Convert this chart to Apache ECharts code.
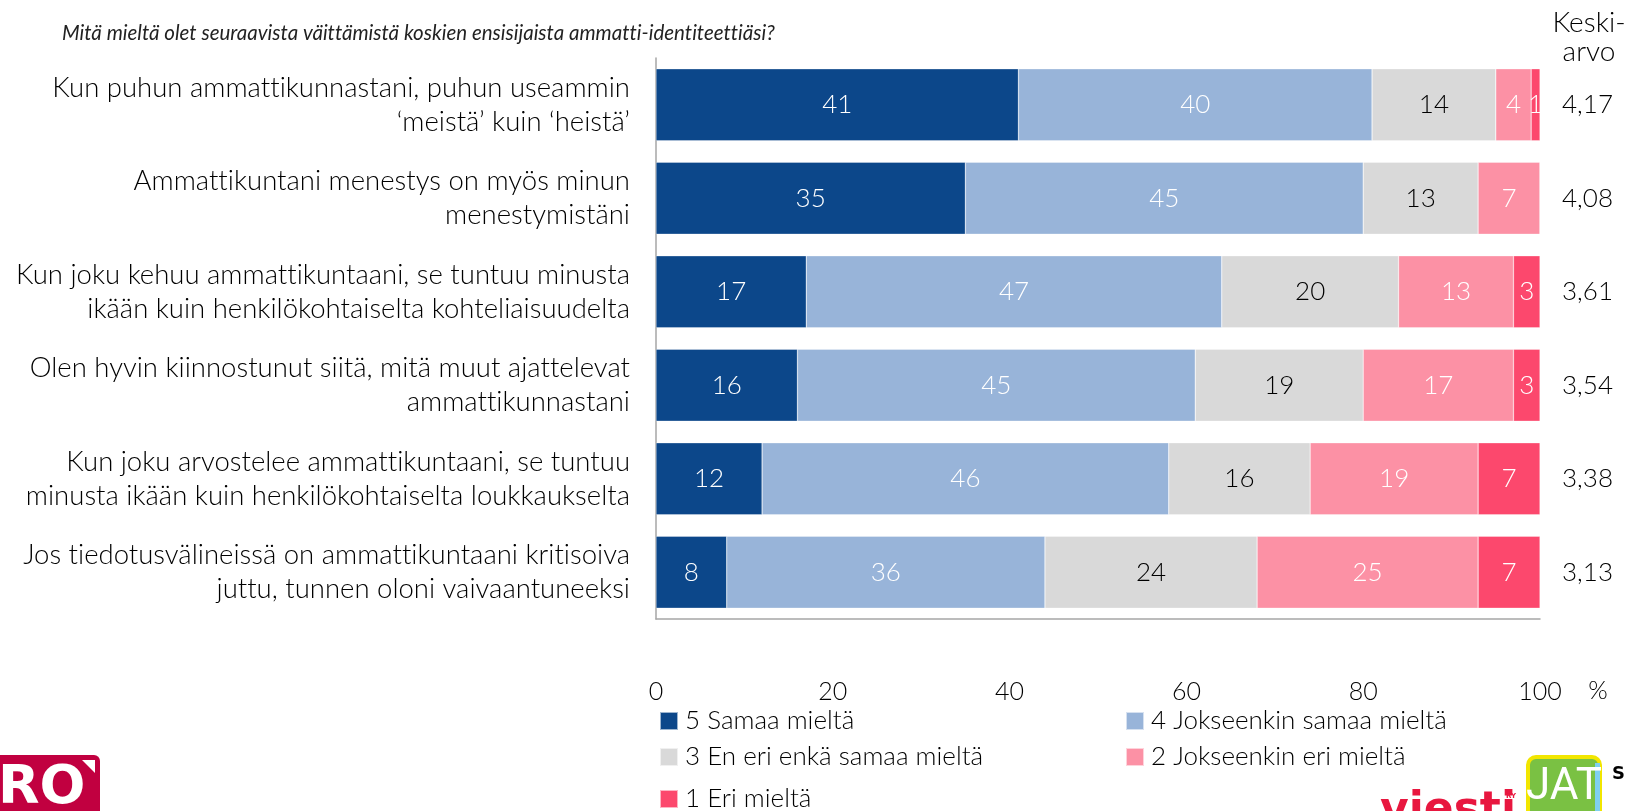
<!DOCTYPE html>
<html>
<head>
<meta charset="utf-8">
<script src="https://cdn.jsdelivr.net/npm/echarts@6/dist/echarts.min.js"></script>
<style>
  html, body { margin: 0; padding: 0; background: #fff; }
  #chart { width: 1627px; height: 811px; }
</style>
</head>
<body>
<div id="chart"></div>
<script>
// väittämät (ylhäältä alas)
const categories = [
    'Kun puhun ammattikunnastani, puhun useammin\n‘meistä’ kuin ‘heistä’',
    'Ammattikuntani menestys on myös minun\nmenestymistäni',
    'Kun joku kehuu ammattikuntaani, se tuntuu minusta\nikään kuin henkilökohtaiselta kohteliaisuudelta',
    'Olen hyvin kiinnostunut siitä, mitä muut ajattelevat\nammattikunnastani',
    'Kun joku arvostelee ammattikuntaani, se tuntuu\nminusta ikään kuin henkilökohtaiselta loukkaukselta',
    'Jos tiedotusvälineissä on ammattikuntaani kritisoiva\njuttu, tunnen oloni vaivaantuneeksi'
];

const seriesNames = [
    '5 Samaa mieltä',
    '4 Jokseenkin samaa mieltä',
    '3 En eri enkä samaa mieltä',
    '2 Jokseenkin eri mieltä',
    '1 Eri mieltä'
];

const samaa = [41, 35, 17, 16, 12, 8];
const jokseenkinSamaa = [40, 45, 47, 45, 46, 36];
const enEriEnkaSamaa = [14, 13, 20, 19, 16, 24];
const jokseenkinEri = [4, 7, 13, 17, 19, 25];
const eri = [1, 0, 3, 3, 7, 7];

const keskiarvo = [4.17, 4.08, 3.61, 3.54, 3.38, 3.13];

const xTicks = [0, 20, 40, 60, 80, 100];

const colors = ['#0c478a', '#98b4d9', '#d9d9d9', '#fc91a5', '#fc486d'];
const labelColors = ['#ffffff', '#ffffff', '#000000', '#ffffff', '#ffffff'];
const font = 'Lato, "Open Sans", sans-serif';

const values = [samaa, jokseenkinSamaa, enEriEnkaSamaa, jokseenkinEri, eri];

// Laton tt/ti-ligatuurit pois
['fillText', 'measureText'].forEach(fn => {
    const orig = CanvasRenderingContext2D.prototype[fn];
    CanvasRenderingContext2D.prototype[fn] = function() {
        this.letterSpacing = '0.01px';
        return orig.apply(this, arguments);
    };
});

const chart = echarts.init(document.getElementById('chart'));

const series = values.map((data, i) => ({
    name: seriesNames[i],
    type: 'bar',
    stack: 'total',
    barWidth: 72,
    data: data,
    itemStyle: {color: colors[i], borderColor: 'rgba(255,255,255,0.6)', borderWidth: 0.5},
    label: {
        show: true,
        position: 'inside',
        color: labelColors[i],
        fontFamily: font,
        fontWeight: 300,
        fontSize: 26,
        formatter: p => (p.value ? p.value : '')
    }
}));

// selitteet kahteen sarakkeeseen
const legendPos = [[654, 703], [1120, 703], [654, 739], [1120, 739], [654, 781]];
const legends = seriesNames.map((name, i) => ({
    data: [name],
    left: legendPos[i][0],
    top: legendPos[i][1],
    icon: 'rect',
    itemWidth: 18,
    itemHeight: 18,
    itemGap: 4,
    selectedMode: false,
    textStyle: {fontFamily: font, fontWeight: 300, fontSize: 26, color: '#000', padding: [0, 0, 0, 2]}
}));

const option = {
    animation: false,
    color: colors,
    grid: {left: 656, right: 87, top: 58, bottom: 192},
    legend: legends,
    xAxis: {
        type: 'value',
        min: 0,
        max: 100,
        interval: 20,
        axisLine: {show: true, lineStyle: {color: '#a6a6a6', width: 1.5}},
        axisTick: {show: false},
        splitLine: {show: false},
        axisLabel: {
            margin: 60,
            fontFamily: font,
            fontWeight: 300,
            fontSize: 25,
            color: '#000',
            formatter: v => (xTicks.indexOf(v) >= 0 ? v : '')
        }
    },
    yAxis: [
        {
            type: 'category',
            inverse: true,
            data: categories,
            axisLine: {show: true, lineStyle: {color: '#a6a6a6', width: 1.5}},
            axisTick: {show: false},
            axisLabel: {
                margin: 26,
                fontFamily: font,
                fontWeight: 300,
                fontSize: 27.5,
                lineHeight: 34,
                color: '#000',
                align: 'right'
            }
        },
        {
            type: 'category',
            inverse: true,
            position: 'right',
            data: keskiarvo.map(v => v.toFixed(2).replace('.', ',')),
            axisLine: {show: false},
            axisTick: {show: false},
            axisLabel: {
                margin: 22,
                fontFamily: font,
                fontWeight: 300,
                fontSize: 26,
                color: '#000'
            }
        }
    ],
    graphic: [
        {
            type: 'text', left: 62, top: 23,
            style: {text: 'Mitä mieltä olet seuraavista väittämistä koskien ensisijaista ammatti-identiteettiäsi?',
                fontFamily: font, fontStyle: 'italic', fontSize: 20.5, fill: '#222'}
        },
        {
            type: 'text', x: 1589, y: 8,
            style: {text: 'Keski-\narvo', align: 'center', lineHeight: 29,
                fontFamily: font, fontWeight: 300, fontSize: 28, fill: '#000'}
        },
        {
            type: 'text', x: 1598, y: 678,
            style: {text: '%', align: 'center', fontFamily: font, fontWeight: 300, fontSize: 25, fill: '#000'}
        },
        // logo vasen alakulma
        {
            type: 'rect', shape: {x: -10, y: 755, width: 110, height: 70, r: 6},
            style: {fill: '#c10040'}
        },
        {
            type: 'text', x: -2, y: 762,
            style: {text: 'RO', fontFamily: 'DejaVu Sans', fontWeight: 'bold', fontSize: 54, fill: '#fff'}
        },
        {
            type: 'polygon', shape: {points: [[82, 760], [95, 760], [95, 773]]},
            style: {fill: '#fff'}
        },
        // logot oikea alakulma
        {
            type: 'text', x: 1380, y: 790,
            style: {text: 'viesti', fontFamily: 'DejaVu Sans', fontWeight: 'bold', fontSize: 44, fill: '#e8173f'}
        },
        {
            type: 'text', x: 1506, y: 793,
            style: {text: 'RY', fontFamily: 'DejaVu Sans', fontWeight: 'bold', fontSize: 7, fill: '#e8173f'}
        },
        {
            type: 'rect', shape: {x: 1528, y: 757, width: 72, height: 70, r: 8},
            style: {fill: '#7ac143', stroke: '#f2e600', lineWidth: 4}
        },
        {
            type: 'rect', shape: {x: 1595, y: 763, width: 5, height: 60},
            style: {fill: '#7fd0f0'}
        },
        {
            type: 'text', x: 1564, y: 766,
            style: {text: 'JAT', align: 'center', fontFamily: 'Liberation Sans Narrow, Roboto', fontSize: 44, fill: '#fff'}
        },
        {
            type: 'text', x: 1612, y: 765,
            style: {text: 'S', fontFamily: 'DejaVu Sans', fontWeight: 'bold', fontSize: 18, fill: '#000'}
        }
    ],
    series: series
};

chart.setOption(option);
</script>
</body>
</html>
